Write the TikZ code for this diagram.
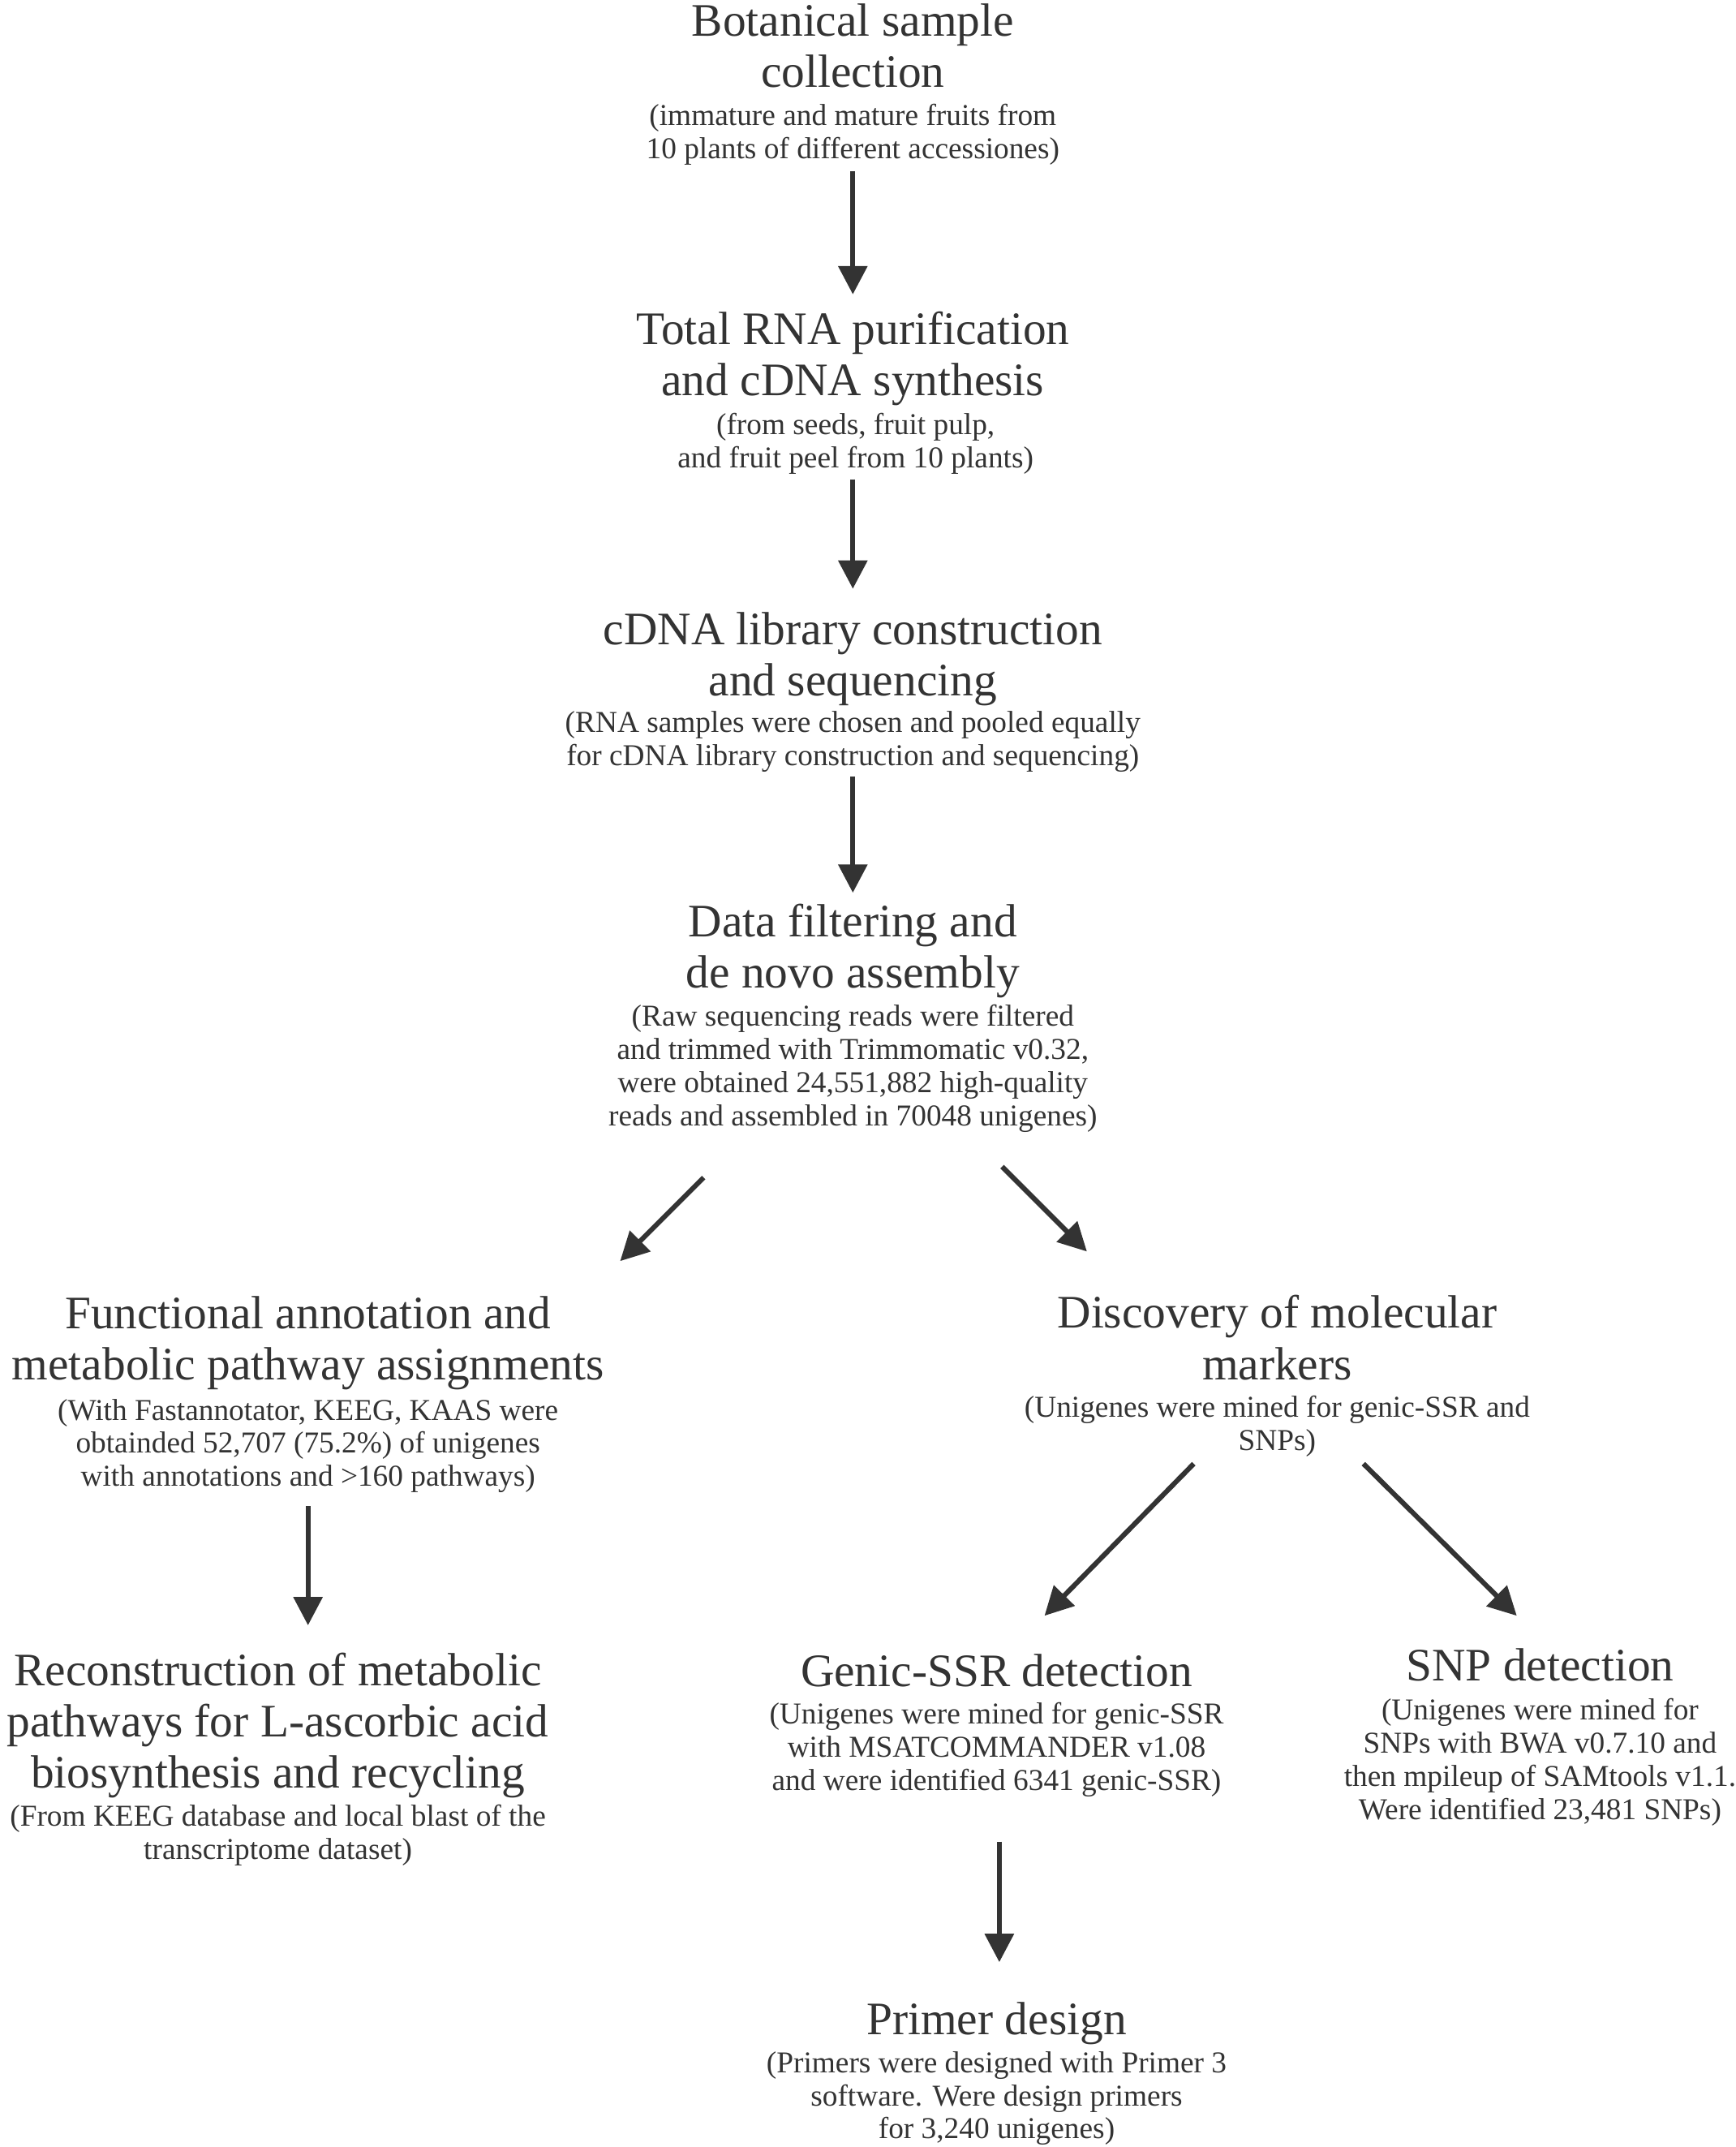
\documentclass[tikz,border=0pt]{standalone}
\usepackage{fontspec}
\setmainfont{Liberation Serif}
\usetikzlibrary{arrows.meta}
\definecolor{ink}{HTML}{333333}
\begin{document}
\begin{tikzpicture}[x=0.4pt,y=-0.4pt,
  ttl/.style={align=center,inner sep=0pt,text=ink,font=\fontsize{13.6}{15}\selectfont},
  sub/.style={align=center,inner sep=0pt,text=ink,font=\fontsize{8.85}{9.7}\selectfont},
  arr/.style={draw=ink,line width=1.45pt,-{Triangle[length=8.3pt,width=8.3pt]}}]
\useasboundingbox (0,0) rectangle (1268,1568);
% step nodes
\node[ttl] (t1) at (623,33.5) {Botanical sample\\collection};
\node[sub] (s1) at (623,98) {(immature and mature fruits from\\10 plants of different accessiones)};
\node[ttl] (t2) at (623,262) {Total RNA purification\\and cDNA synthesis};
\node[sub] (s2) at (625,324) {(from seeds, fruit pulp,\\ and fruit peel from 10 plants)};
\node[ttl] (t3) at (623,481.5) {cDNA library construction\\and sequencing};
\node[sub] (s3) at (623,541.5) {(RNA samples were chosen and pooled equally\\for cDNA library construction and sequencing)};
\node[ttl] (t4) at (623,694.5) {Data filtering and\\de novo assembly};
\node[sub] (s4) at (623,780.5) {(Raw sequencing reads were filtered\\and trimmed with Trimmomatic v0.32,\\were obtained 24,551,882 high-quality\\reads and assembled in 70048 unigenes)};
\node[ttl] (t5) at (225,981) {Functional annotation and\\metabolic pathway assignments};
\node[sub] (s5) at (225,1056) {(With Fastannotator, KEEG, KAAS were\\obtainded 52,707 (75.2\%) of unigenes\\with annotations and >160 pathways)};
\node[ttl] (t6) at (933,977) {Discovery of molecular\\markers};
\node[sub] (s6) at (933,1041.5) {(Unigenes were mined for genic-SSR and\\SNPs)};
\node[ttl] (t7) at (203,1260) {Reconstruction of metabolic\\pathways for L-ascorbic acid\\biosynthesis and recycling};
\node[sub] (s7) at (203,1340.5) {(From KEEG database and local blast of the\\transcriptome dataset)};
\node[ttl] (t8) at (728,1220) {Genic-SSR detection};
\node[sub] (s8) at (728,1278) {(Unigenes were mined for genic-SSR\\with MSATCOMMANDER v1.08\\and were identified 6341 genic-SSR)};
\node[ttl] (t9) at (1125,1216) {SNP detection};
\node[sub] (s9) at (1125,1287) {(Unigenes were mined for\\SNPs with BWA v0.7.10 and\\then mpileup of SAMtools v1.1.\\Were identified 23,481 SNPs)};
\node[ttl] (t10) at (728,1478) {Primer design};
\node[sub] (s10) at (728,1532.5) {(Primers were designed with Primer 3\\software. Were design primers\\for 3,240 unigenes)};
% arrow end points
\coordinate (a1s) at (623,125);  \coordinate (a1e) at (623,215);
\coordinate (a2s) at (623,350);  \coordinate (a2e) at (623,430);
\coordinate (a3s) at (623,567);  \coordinate (a3e) at (623,652);
\coordinate (a4s) at (514,860);  \coordinate (a4e) at (453,921);
\coordinate (a5s) at (732,852);  \coordinate (a5e) at (794,914);
\coordinate (a6s) at (225,1100); \coordinate (a6e) at (225,1187);
\coordinate (a7s) at (872,1069); \coordinate (a7e) at (763,1180);
\coordinate (a8s) at (996,1069); \coordinate (a8e) at (1108,1180);
\coordinate (a9s) at (730,1345); \coordinate (a9e) at (730,1433);
\foreach \i in {1,...,9} {\draw[arr] (a\i s) -- (a\i e);}
\end{tikzpicture}
\end{document}
